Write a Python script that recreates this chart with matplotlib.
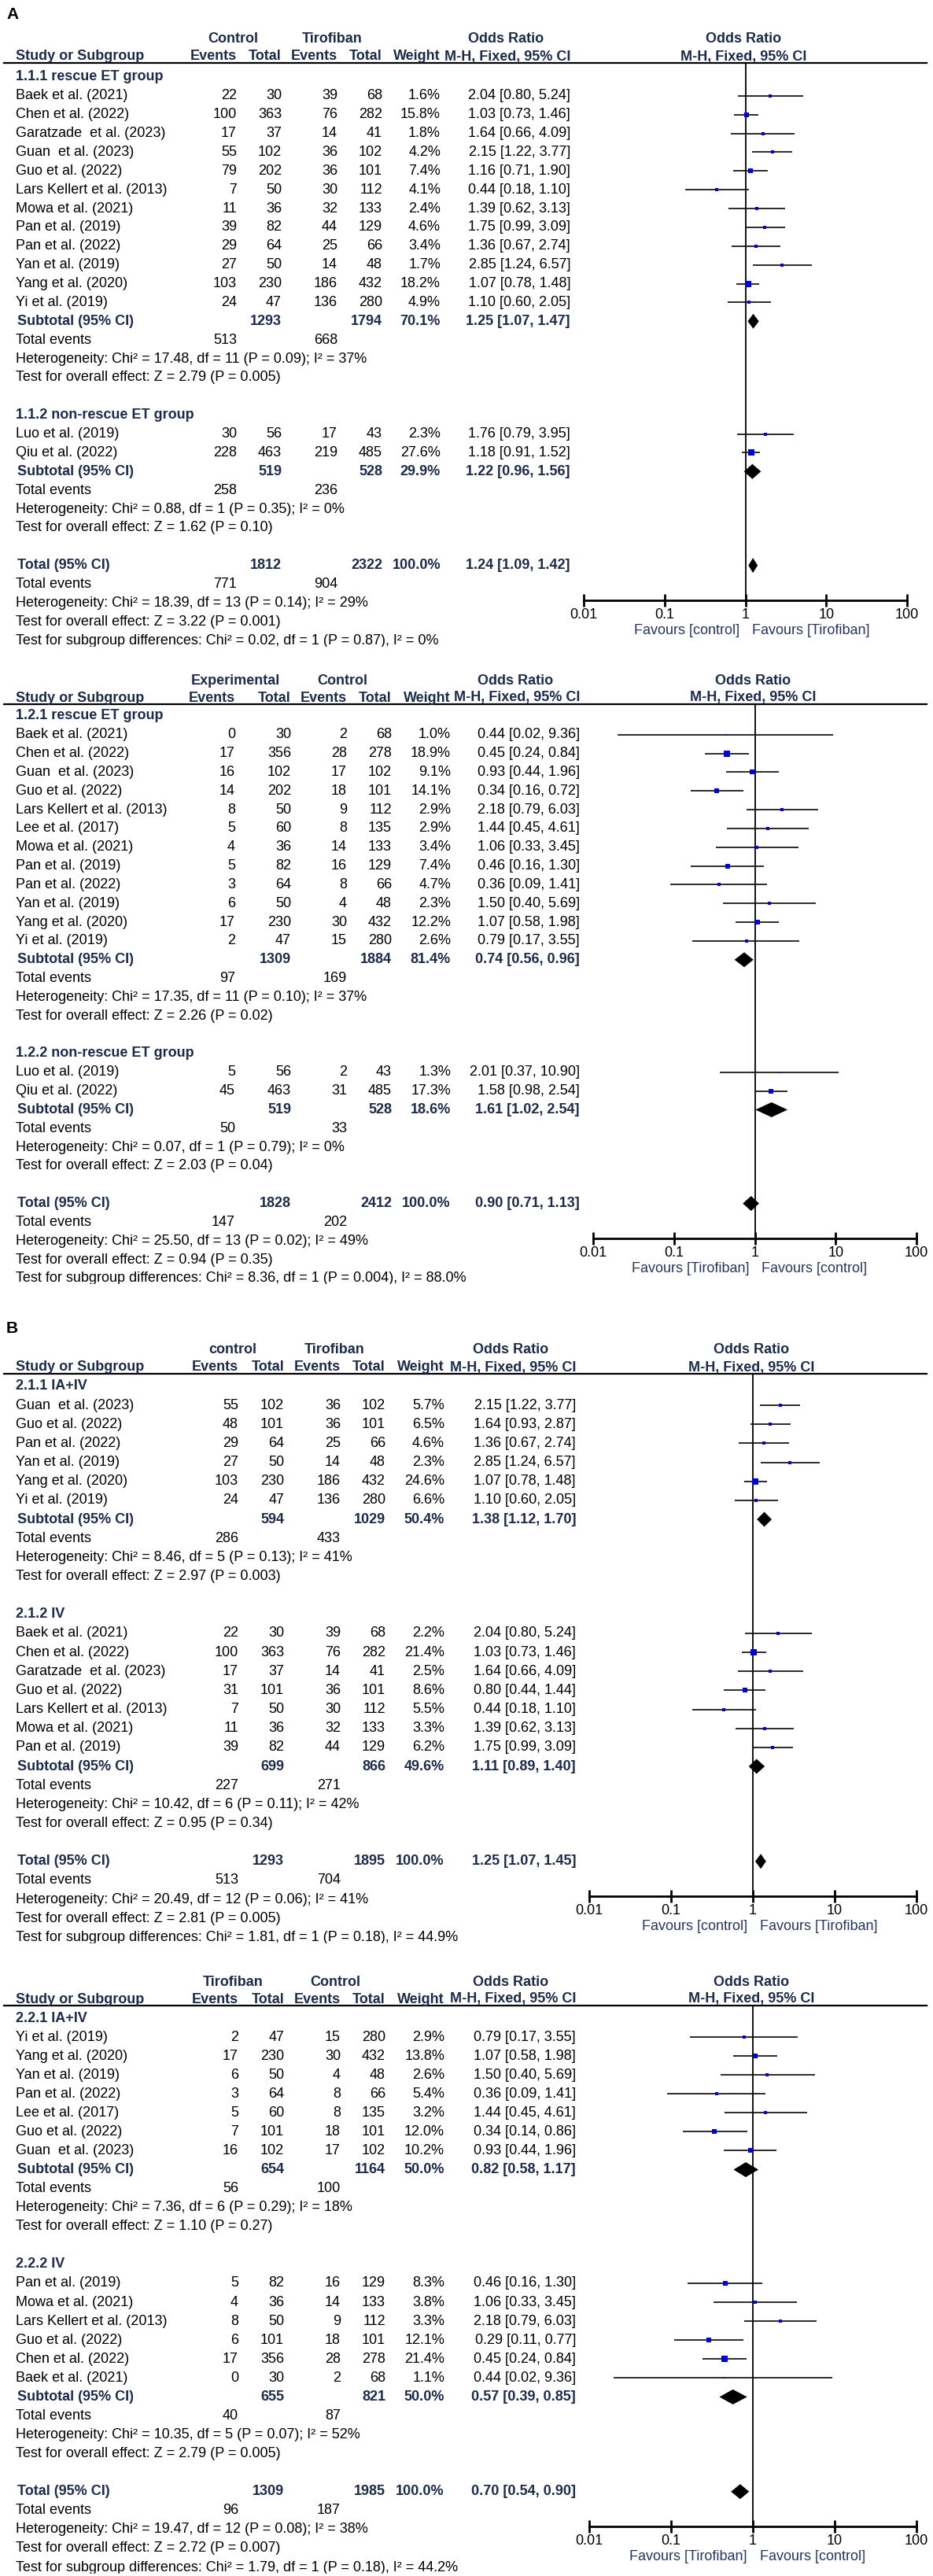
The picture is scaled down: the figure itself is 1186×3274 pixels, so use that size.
import matplotlib
matplotlib.use("Agg")
import matplotlib.pyplot as plt
from matplotlib.patches import Rectangle
from matplotlib.ticker import NullLocator

plt.rcParams['font.family'] = ['Liberation Sans', 'DejaVu Sans']

W, H = 1186, 3274

# ---------------- panel A (top): Control vs Tirofiban ----------------
p1_arms = ["Control", "Tirofiban"]
p1_favours = ["Favours [control]", "Favours [Tirofiban]"]

p1g1_head = "1.1.1 rescue ET group"
p1g1_study = ["Baek et al. (2021)", "Chen et al. (2022)", "Garatzade  et al. (2023)", "Guan  et al. (2023)",
              "Guo et al. (2022)", "Lars Kellert et al. (2013)", "Mowa et al. (2021)", "Pan et al. (2019)",
              "Pan et al. (2022)", "Yan et al. (2019)", "Yang et al. (2020)", "Yi et al. (2019)"]
p1g1_e1 = [22, 100, 17, 55, 79, 7, 11, 39, 29, 27, 103, 24]
p1g1_n1 = [30, 363, 37, 102, 202, 50, 36, 82, 64, 50, 230, 47]
p1g1_e2 = [39, 76, 14, 36, 36, 30, 32, 44, 25, 14, 186, 136]
p1g1_n2 = [68, 282, 41, 102, 101, 112, 133, 129, 66, 48, 432, 280]
p1g1_w = [1.6, 15.8, 1.8, 4.2, 7.4, 4.1, 2.4, 4.6, 3.4, 1.7, 18.2, 4.9]
p1g1_or = [2.04, 1.03, 1.64, 2.15, 1.16, 0.44, 1.39, 1.75, 1.36, 2.85, 1.07, 1.10]
p1g1_lo = [0.80, 0.73, 0.66, 1.22, 0.71, 0.18, 0.62, 0.99, 0.67, 1.24, 0.78, 0.60]
p1g1_hi = [5.24, 1.46, 4.09, 3.77, 1.90, 1.10, 3.13, 3.09, 2.74, 6.57, 1.48, 2.05]
p1g1_sub_n = [1293, 1794]
p1g1_sub_w = 70.1
p1g1_sub_ci = [1.25, 1.07, 1.47]
p1g1_events = [513, 668]
p1g1_het = "Heterogeneity: Chi² = 17.48, df = 11 (P = 0.09); I² = 37%"
p1g1_z = "Test for overall effect: Z = 2.79 (P = 0.005)"

p1g2_head = "1.1.2 non-rescue ET group"
p1g2_study = ["Luo et al. (2019)", "Qiu et al. (2022)"]
p1g2_e1 = [30, 228]
p1g2_n1 = [56, 463]
p1g2_e2 = [17, 219]
p1g2_n2 = [43, 485]
p1g2_w = [2.3, 27.6]
p1g2_or = [1.76, 1.18]
p1g2_lo = [0.79, 0.91]
p1g2_hi = [3.95, 1.52]
p1g2_sub_n = [519, 528]
p1g2_sub_w = 29.9
p1g2_sub_ci = [1.22, 0.96, 1.56]
p1g2_events = [258, 236]
p1g2_het = "Heterogeneity: Chi² = 0.88, df = 1 (P = 0.35); I² = 0%"
p1g2_z = "Test for overall effect: Z = 1.62 (P = 0.10)"

p1_tot_n = [1812, 2322]
p1_tot_ci = [1.24, 1.09, 1.42]
p1_tot_events = [771, 904]
p1_tot_het = "Heterogeneity: Chi² = 18.39, df = 13 (P = 0.14); I² = 29%"
p1_tot_z = "Test for overall effect: Z = 3.22 (P = 0.001)"
p1_sg = "Test for subgroup differences: Chi² = 0.02, df = 1 (P = 0.87), I² = 0%"

# ---------------- panel A (bottom): Experimental vs Control ----------------
p2_arms = ["Experimental", "Control"]
p2_favours = ["Favours [Tirofiban]", "Favours [control]"]

p2g1_head = "1.2.1 rescue ET group"
p2g1_study = ["Baek et al. (2021)", "Chen et al. (2022)", "Guan  et al. (2023)", "Guo et al. (2022)",
              "Lars Kellert et al. (2013)", "Lee et al. (2017)", "Mowa et al. (2021)", "Pan et al. (2019)",
              "Pan et al. (2022)", "Yan et al. (2019)", "Yang et al. (2020)", "Yi et al. (2019)"]
p2g1_e1 = [0, 17, 16, 14, 8, 5, 4, 5, 3, 6, 17, 2]
p2g1_n1 = [30, 356, 102, 202, 50, 60, 36, 82, 64, 50, 230, 47]
p2g1_e2 = [2, 28, 17, 18, 9, 8, 14, 16, 8, 4, 30, 15]
p2g1_n2 = [68, 278, 102, 101, 112, 135, 133, 129, 66, 48, 432, 280]
p2g1_w = [1.0, 18.9, 9.1, 14.1, 2.9, 2.9, 3.4, 7.4, 4.7, 2.3, 12.2, 2.6]
p2g1_or = [0.44, 0.45, 0.93, 0.34, 2.18, 1.44, 1.06, 0.46, 0.36, 1.50, 1.07, 0.79]
p2g1_lo = [0.02, 0.24, 0.44, 0.16, 0.79, 0.45, 0.33, 0.16, 0.09, 0.40, 0.58, 0.17]
p2g1_hi = [9.36, 0.84, 1.96, 0.72, 6.03, 4.61, 3.45, 1.30, 1.41, 5.69, 1.98, 3.55]
p2g1_sub_n = [1309, 1884]
p2g1_sub_w = 81.4
p2g1_sub_ci = [0.74, 0.56, 0.96]
p2g1_events = [97, 169]
p2g1_het = "Heterogeneity: Chi² = 17.35, df = 11 (P = 0.10); I² = 37%"
p2g1_z = "Test for overall effect: Z = 2.26 (P = 0.02)"

p2g2_head = "1.2.2 non-rescue ET group"
p2g2_study = ["Luo et al. (2019)", "Qiu et al. (2022)"]
p2g2_e1 = [5, 45]
p2g2_n1 = [56, 463]
p2g2_e2 = [2, 31]
p2g2_n2 = [43, 485]
p2g2_w = [1.3, 17.3]
p2g2_or = [2.01, 1.58]
p2g2_lo = [0.37, 0.98]
p2g2_hi = [10.90, 2.54]
p2g2_sub_n = [519, 528]
p2g2_sub_w = 18.6
p2g2_sub_ci = [1.61, 1.02, 2.54]
p2g2_events = [50, 33]
p2g2_het = "Heterogeneity: Chi² = 0.07, df = 1 (P = 0.79); I² = 0%"
p2g2_z = "Test for overall effect: Z = 2.03 (P = 0.04)"

p2_tot_n = [1828, 2412]
p2_tot_ci = [0.90, 0.71, 1.13]
p2_tot_events = [147, 202]
p2_tot_het = "Heterogeneity: Chi² = 25.50, df = 13 (P = 0.02); I² = 49%"
p2_tot_z = "Test for overall effect: Z = 0.94 (P = 0.35)"
p2_sg = "Test for subgroup differences: Chi² = 8.36, df = 1 (P = 0.004), I² = 88.0%"

# ---------------- panel B (top): control vs Tirofiban ----------------
p3_arms = ["control", "Tirofiban"]
p3_favours = ["Favours [control]", "Favours [Tirofiban]"]

p3g1_head = "2.1.1 IA+IV"
p3g1_study = ["Guan  et al. (2023)", "Guo et al. (2022)", "Pan et al. (2022)", "Yan et al. (2019)",
              "Yang et al. (2020)", "Yi et al. (2019)"]
p3g1_e1 = [55, 48, 29, 27, 103, 24]
p3g1_n1 = [102, 101, 64, 50, 230, 47]
p3g1_e2 = [36, 36, 25, 14, 186, 136]
p3g1_n2 = [102, 101, 66, 48, 432, 280]
p3g1_w = [5.7, 6.5, 4.6, 2.3, 24.6, 6.6]
p3g1_or = [2.15, 1.64, 1.36, 2.85, 1.07, 1.10]
p3g1_lo = [1.22, 0.93, 0.67, 1.24, 0.78, 0.60]
p3g1_hi = [3.77, 2.87, 2.74, 6.57, 1.48, 2.05]
p3g1_sub_n = [594, 1029]
p3g1_sub_w = 50.4
p3g1_sub_ci = [1.38, 1.12, 1.70]
p3g1_events = [286, 433]
p3g1_het = "Heterogeneity: Chi² = 8.46, df = 5 (P = 0.13); I² = 41%"
p3g1_z = "Test for overall effect: Z = 2.97 (P = 0.003)"

p3g2_head = "2.1.2 IV"
p3g2_study = ["Baek et al. (2021)", "Chen et al. (2022)", "Garatzade  et al. (2023)", "Guo et al. (2022)",
              "Lars Kellert et al. (2013)", "Mowa et al. (2021)", "Pan et al. (2019)"]
p3g2_e1 = [22, 100, 17, 31, 7, 11, 39]
p3g2_n1 = [30, 363, 37, 101, 50, 36, 82]
p3g2_e2 = [39, 76, 14, 36, 30, 32, 44]
p3g2_n2 = [68, 282, 41, 101, 112, 133, 129]
p3g2_w = [2.2, 21.4, 2.5, 8.6, 5.5, 3.3, 6.2]
p3g2_or = [2.04, 1.03, 1.64, 0.80, 0.44, 1.39, 1.75]
p3g2_lo = [0.80, 0.73, 0.66, 0.44, 0.18, 0.62, 0.99]
p3g2_hi = [5.24, 1.46, 4.09, 1.44, 1.10, 3.13, 3.09]
p3g2_sub_n = [699, 866]
p3g2_sub_w = 49.6
p3g2_sub_ci = [1.11, 0.89, 1.40]
p3g2_events = [227, 271]
p3g2_het = "Heterogeneity: Chi² = 10.42, df = 6 (P = 0.11); I² = 42%"
p3g2_z = "Test for overall effect: Z = 0.95 (P = 0.34)"

p3_tot_n = [1293, 1895]
p3_tot_ci = [1.25, 1.07, 1.45]
p3_tot_events = [513, 704]
p3_tot_het = "Heterogeneity: Chi² = 20.49, df = 12 (P = 0.06); I² = 41%"
p3_tot_z = "Test for overall effect: Z = 2.81 (P = 0.005)"
p3_sg = "Test for subgroup differences: Chi² = 1.81, df = 1 (P = 0.18), I² = 44.9%"

# ---------------- panel B (bottom): Tirofiban vs Control ----------------
p4_arms = ["Tirofiban", "Control"]
p4_favours = ["Favours [Tirofiban]", "Favours [control]"]

p4g1_head = "2.2.1 IA+IV"
p4g1_study = ["Yi et al. (2019)", "Yang et al. (2020)", "Yan et al. (2019)", "Pan et al. (2022)",
              "Lee et al. (2017)", "Guo et al. (2022)", "Guan  et al. (2023)"]
p4g1_e1 = [2, 17, 6, 3, 5, 7, 16]
p4g1_n1 = [47, 230, 50, 64, 60, 101, 102]
p4g1_e2 = [15, 30, 4, 8, 8, 18, 17]
p4g1_n2 = [280, 432, 48, 66, 135, 101, 102]
p4g1_w = [2.9, 13.8, 2.6, 5.4, 3.2, 12.0, 10.2]
p4g1_or = [0.79, 1.07, 1.50, 0.36, 1.44, 0.34, 0.93]
p4g1_lo = [0.17, 0.58, 0.40, 0.09, 0.45, 0.14, 0.44]
p4g1_hi = [3.55, 1.98, 5.69, 1.41, 4.61, 0.86, 1.96]
p4g1_sub_n = [654, 1164]
p4g1_sub_w = 50.0
p4g1_sub_ci = [0.82, 0.58, 1.17]
p4g1_events = [56, 100]
p4g1_het = "Heterogeneity: Chi² = 7.36, df = 6 (P = 0.29); I² = 18%"
p4g1_z = "Test for overall effect: Z = 1.10 (P = 0.27)"

p4g2_head = "2.2.2 IV"
p4g2_study = ["Pan et al. (2019)", "Mowa et al. (2021)", "Lars Kellert et al. (2013)", "Guo et al. (2022)",
              "Chen et al. (2022)", "Baek et al. (2021)"]
p4g2_e1 = [5, 4, 8, 6, 17, 0]
p4g2_n1 = [82, 36, 50, 101, 356, 30]
p4g2_e2 = [16, 14, 9, 18, 28, 2]
p4g2_n2 = [129, 133, 112, 101, 278, 68]
p4g2_w = [8.3, 3.8, 3.3, 12.1, 21.4, 1.1]
p4g2_or = [0.46, 1.06, 2.18, 0.29, 0.45, 0.44]
p4g2_lo = [0.16, 0.33, 0.79, 0.11, 0.24, 0.02]
p4g2_hi = [1.30, 3.45, 6.03, 0.77, 0.84, 9.36]
p4g2_sub_n = [655, 821]
p4g2_sub_w = 50.0
p4g2_sub_ci = [0.57, 0.39, 0.85]
p4g2_events = [40, 87]
p4g2_het = "Heterogeneity: Chi² = 10.35, df = 5 (P = 0.07); I² = 52%"
p4g2_z = "Test for overall effect: Z = 2.79 (P = 0.005)"

p4_tot_n = [1309, 1985]
p4_tot_ci = [0.70, 0.54, 0.90]
p4_tot_events = [96, 187]
p4_tot_het = "Heterogeneity: Chi² = 19.47, df = 12 (P = 0.08); I² = 38%"
p4_tot_z = "Test for overall effect: Z = 2.72 (P = 0.007)"
p4_sg = "Test for subgroup differences: Chi² = 1.79, df = 1 (P = 0.18), I² = 44.2%"


FS = 13
NAVY = '#1c2b4a'
BLUE = '#0000dd'
FAV = '#27365e'

fig = plt.figure(figsize=(W / 100, H / 100), dpi=100)
bg = fig.add_axes([0, 0, 1, 1])
bg.set_xlim(0, W)
bg.set_ylim(H, 0)
bg.axis('off')


def ci_text(c):
    return f"{c[0]:.2f} [{c[1]:.2f}, {c[2]:.2f}]"


def txt(x, y, s, ha='left', bold=False, color='black'):
    bg.text(x, y, s, ha=ha, va='center', fontsize=FS, color=color,
            fontweight='bold' if bold else 'normal')


def diamond(ax, c, y, half=9.5):
    ax.fill([c[1], c[0], c[2], c[0]], [y, y - half, y, y + half], color='black', zorder=4, lw=0)


def panel(arms, favours, groups, total, line_y, row0, pitch, cols, arm_x, or_x, x001, x100):
    row = lambda i: row0 + i * pitch
    n_rows = sum(len(g[1]) + 6 for g in groups)
    axis_y = row(n_rows) + 44
    xmid = (x001 + x100) / 2

    # header
    txt(arm_x[0], line_y - 30, arms[0], 'center', True, NAVY)
    txt(arm_x[1], line_y - 30, arms[1], 'center', True, NAVY)
    txt(or_x, line_y - 30, "Odds Ratio", 'center', True, NAVY)
    txt(xmid - 2, line_y - 30, "Odds Ratio", 'center', True, NAVY)
    txt(20, line_y - 8, "Study or Subgroup", bold=True, color=NAVY)
    for c, s in zip(cols, ["Events", "Total", "Events", "Total", "Weight", "M-H, Fixed, 95% CI"]):
        txt(c, line_y - 8, s, 'right', True, NAVY)
    txt(xmid - 2, line_y - 8, "M-H, Fixed, 95% CI", 'center', True, NAVY)
    bg.plot([5, 1178], [line_y, line_y], color='black', lw=1.6)

    fx = fig.add_axes([x001 / W, 1 - axis_y / H, (x100 - x001) / W, (axis_y - line_y) / H])
    fx.set_xscale('log')
    fx.set_xlim(0.01, 100)
    fx.set_ylim(axis_y, line_y)
    fx.patch.set_alpha(0)
    for s in ['left', 'top', 'right']:
        fx.spines[s].set_visible(False)
    fx.spines['bottom'].set_linewidth(2)
    fx.set_yticks([])
    fx.set_xticks([0.01, 0.1, 1, 10, 100], ['0.01', '0.1', '1', '10', '100'], fontsize=FS)
    fx.xaxis.set_minor_locator(NullLocator())
    fx.tick_params(axis='x', direction='inout', length=12, width=2, pad=1.5)
    fx.axvline(1, color='black', lw=1.3, zorder=1)

    i = 0
    for head, study, e1, n1, e2, n2, w, orr, lo, hi, sub_n, sub_w, sub_ci, events, het, z in groups:
        txt(20, row(i), head, bold=True, color=NAVY)
        i += 1
        for k in range(len(study)):
            y = row(i)
            txt(20, y, study[k])
            for c, v in zip(cols[:4], [e1[k], n1[k], e2[k], n2[k]]):
                txt(c, y, str(v), 'right')
            txt(cols[4], y, f"{w[k]:.1f}%", 'right')
            txt(cols[5], y, ci_text([orr[k], lo[k], hi[k]]), 'right')
            fx.plot([lo[k], hi[k]], [y, y], color='#111111', lw=1.25, zorder=2, solid_capstyle='butt')
            side = (1.3 + 1.37 * w[k] ** 0.5) * 0.72
            fx.scatter([orr[k]], [y], marker='s', s=side ** 2, color=BLUE, lw=0, zorder=3)
            i += 1
        y = row(i)
        txt(22, y, "Subtotal (95% CI)", bold=True, color=NAVY)
        txt(cols[1], y, str(sub_n[0]), 'right', True, NAVY)
        txt(cols[3], y, str(sub_n[1]), 'right', True, NAVY)
        txt(cols[4], y, f"{sub_w:.1f}%", 'right', True, NAVY)
        txt(cols[5], y, ci_text(sub_ci), 'right', True, NAVY)
        diamond(fx, sub_ci, y)
        txt(20, row(i + 1), "Total events")
        txt(cols[0], row(i + 1), str(events[0]), 'right')
        txt(cols[2], row(i + 1), str(events[1]), 'right')
        txt(20, row(i + 2), het)
        txt(20, row(i + 3), z)
        i += 5

    tot_n, tot_ci, tot_events, tot_het, tot_z, sg = total
    y = row(i)
    txt(22, y, "Total (95% CI)", bold=True, color=NAVY)
    txt(cols[1], y, str(tot_n[0]), 'right', True, NAVY)
    txt(cols[3], y, str(tot_n[1]), 'right', True, NAVY)
    txt(cols[4], y, "100.0%", 'right', True, NAVY)
    txt(cols[5], y, ci_text(tot_ci), 'right', True, NAVY)
    diamond(fx, tot_ci, y)
    txt(20, row(i + 1), "Total events")
    txt(cols[0], row(i + 1), str(tot_events[0]), 'right')
    txt(cols[2], row(i + 1), str(tot_events[1]), 'right')
    txt(20, row(i + 2), tot_het)
    txt(20, row(i + 3), tot_z)
    txt(20, row(i + 4), sg)
    # the export cuts the last line just under its baseline
    bg.add_patch(Rectangle((10, row(i + 4) + 7.5), 700, 12, color='white', zorder=5))

    x1 = x001 + (x100 - x001) / 2
    txt(x1 - 7, axis_y + 39, favours[0], 'right', color=FAV)
    txt(x1 + 9, axis_y + 39, favours[1], 'left', color=FAV)


def grp(*a):
    return a


bg.text(8, 18, "A", fontsize=15, fontweight='bold', va='center')
bg.text(8, 1688, "B", fontsize=15, fontweight='bold', va='center')

panel(p1_arms, p1_favours,
      [grp(p1g1_head, p1g1_study, p1g1_e1, p1g1_n1, p1g1_e2, p1g1_n2, p1g1_w, p1g1_or, p1g1_lo, p1g1_hi,
           p1g1_sub_n, p1g1_sub_w, p1g1_sub_ci, p1g1_events, p1g1_het, p1g1_z),
       grp(p1g2_head, p1g2_study, p1g2_e1, p1g2_n1, p1g2_e2, p1g2_n2, p1g2_w, p1g2_or, p1g2_lo, p1g2_hi,
           p1g2_sub_n, p1g2_sub_w, p1g2_sub_ci, p1g2_events, p1g2_het, p1g2_z)],
      (p1_tot_n, p1_tot_ci, p1_tot_events, p1_tot_het, p1_tot_z, p1_sg),
      line_y=80, row0=98, pitch=23.87, cols=[301, 358, 429, 486, 560, 725],
      arm_x=[296, 422], or_x=643, x001=742, x100=1153)

panel(p2_arms, p2_favours,
      [grp(p2g1_head, p2g1_study, p2g1_e1, p2g1_n1, p2g1_e2, p2g1_n2, p2g1_w, p2g1_or, p2g1_lo, p2g1_hi,
           p2g1_sub_n, p2g1_sub_w, p2g1_sub_ci, p2g1_events, p2g1_het, p2g1_z),
       grp(p2g2_head, p2g2_study, p2g2_e1, p2g2_n1, p2g2_e2, p2g2_n2, p2g2_w, p2g2_or, p2g2_lo, p2g2_hi,
           p2g2_sub_n, p2g2_sub_w, p2g2_sub_ci, p2g2_events, p2g2_het, p2g2_z)],
      (p2_tot_n, p2_tot_ci, p2_tot_events, p2_tot_het, p2_tot_z, p2_sg),
      line_y=895, row0=910, pitch=23.83, cols=[299, 370, 441, 498, 573, 737],
      arm_x=[299, 435], or_x=655, x001=754, x100=1165)

panel(p3_arms, p3_favours,
      [grp(p3g1_head, p3g1_study, p3g1_e1, p3g1_n1, p3g1_e2, p3g1_n2, p3g1_w, p3g1_or, p3g1_lo, p3g1_hi,
           p3g1_sub_n, p3g1_sub_w, p3g1_sub_ci, p3g1_events, p3g1_het, p3g1_z),
       grp(p3g2_head, p3g2_study, p3g2_e1, p3g2_n1, p3g2_e2, p3g2_n2, p3g2_w, p3g2_or, p3g2_lo, p3g2_hi,
           p3g2_sub_n, p3g2_sub_w, p3g2_sub_ci, p3g2_events, p3g2_het, p3g2_z)],
      (p3_tot_n, p3_tot_ci, p3_tot_events, p3_tot_het, p3_tot_z, p3_sg),
      line_y=1746, row0=1762, pitch=24.15, cols=[303, 361, 433, 490, 565, 732],
      arm_x=[296, 425], or_x=649, x001=749, x100=1165)

panel(p4_arms, p4_favours,
      [grp(p4g1_head, p4g1_study, p4g1_e1, p4g1_n1, p4g1_e2, p4g1_n2, p4g1_w, p4g1_or, p4g1_lo, p4g1_hi,
           p4g1_sub_n, p4g1_sub_w, p4g1_sub_ci, p4g1_events, p4g1_het, p4g1_z),
       grp(p4g2_head, p4g2_study, p4g2_e1, p4g2_n1, p4g2_e2, p4g2_n2, p4g2_w, p4g2_or, p4g2_lo, p4g2_hi,
           p4g2_sub_n, p4g2_sub_w, p4g2_sub_ci, p4g2_events, p4g2_het, p4g2_z)],
      (p4_tot_n, p4_tot_ci, p4_tot_events, p4_tot_het, p4_tot_z, p4_sg),
      line_y=2549, row0=2565, pitch=24.07, cols=[303, 361, 433, 490, 565, 732],
      arm_x=[296, 426], or_x=649, x001=749, x100=1165)

fig.savefig("out.png", dpi=100)
